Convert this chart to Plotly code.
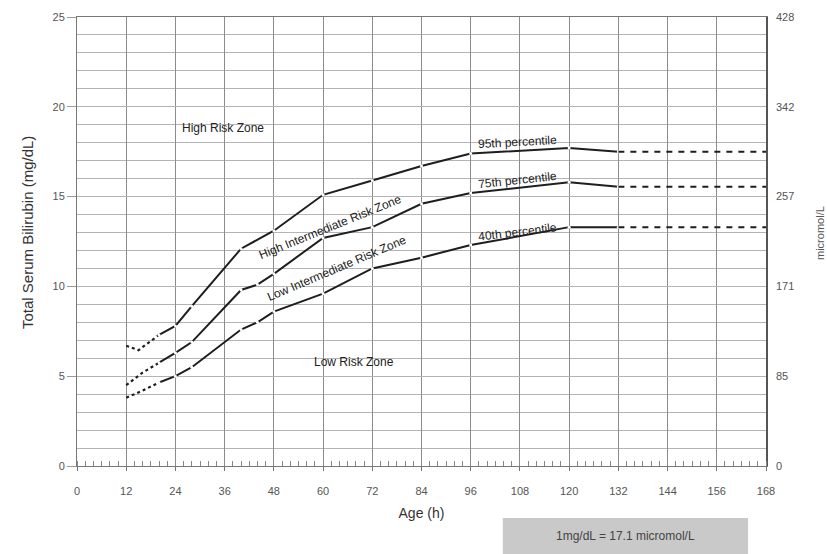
import plotly.graph_objects as go

# ---- data (hours, mg/dL) ----
p95_dot_x = [12, 15, 20]
p95_dot_y = [6.7, 6.45, 7.3]
p95_x = [20, 24, 28, 40, 48, 60, 72, 84, 96, 120, 132]
p95_y = [7.3, 7.8, 8.9, 12.1, 13.1, 15.1, 15.9, 16.7, 17.4, 17.7, 17.5]
p95_ext_x = [132, 168]
p95_ext_y = [17.5, 17.5]

p75_dot_x = [12, 16, 20]
p75_dot_y = [4.5, 5.2, 5.75]
p75_x = [20, 24, 28, 40, 44, 48, 60, 72, 84, 96, 120, 132]
p75_y = [5.75, 6.3, 6.9, 9.8, 10.1, 10.7, 12.7, 13.3, 14.6, 15.2, 15.8, 15.55]
p75_ext_x = [132, 168]
p75_ext_y = [15.55, 15.55]

p40_dot_x = [12, 16, 20]
p40_dot_y = [3.8, 4.2, 4.65]
p40_x = [20, 24, 28, 40, 44, 48, 60, 72, 84, 96, 120, 132]
p40_y = [4.65, 5.0, 5.5, 7.6, 8.0, 8.6, 9.6, 11.0, 11.6, 12.3, 13.3, 13.3]
p40_ext_x = [132, 168]
p40_ext_y = [13.3, 13.3]

x_ticks = list(range(0, 169, 12))
y_ticks = [0, 5, 10, 15, 20, 25]
micromol_labels = ["0", "85", "171", "257", "342", "428"]

LINE = "#1e1e1e"
fig = go.Figure()

def add_curve(dx, dy, sx, sy, ex, ey):
    fig.add_trace(go.Scatter(x=dx, y=dy, mode="lines",
                             line=dict(color=LINE, width=2.2, dash="dot"),
                             hoverinfo="skip", showlegend=False))
    fig.add_trace(go.Scatter(x=sx, y=sy, mode="lines+markers",
                             line=dict(color=LINE, width=2),
                             marker=dict(color="white", size=3, line=dict(width=0)),
                             hoverinfo="skip", showlegend=False))
    fig.add_trace(go.Scatter(x=ex, y=ey, mode="lines",
                             line=dict(color=LINE, width=2, dash="6px,6px"),
                             hoverinfo="skip", showlegend=False))

add_curve(p95_dot_x, p95_dot_y, p95_x, p95_y, p95_ext_x, p95_ext_y)
add_curve(p75_dot_x, p75_dot_y, p75_x, p75_y, p75_ext_x, p75_ext_y)
add_curve(p40_dot_x, p40_dot_y, p40_x, p40_y, p40_ext_x, p40_ext_y)

# invisible trace for the right axis
fig.add_trace(go.Scatter(x=[0], y=[0], yaxis="y2", mode="markers",
                         marker=dict(opacity=0), hoverinfo="skip", showlegend=False))

FONT = "Liberation Sans, Arial, sans-serif"
ann = [
    dict(x=35.5, y=18.8, text="High Risk Zone", angle=0),
    dict(x=67.5, y=5.8, text="Low Risk Zone", angle=0),
    dict(x=61.7, y=13.3, text="High Intermediate Risk Zone", angle=-22),
    dict(x=63.5, y=11.0, text="Low Intermediate Risk Zone", angle=-23),
    dict(x=107.5, y=18.05, text="95th percentile", angle=-3),
    dict(x=107.5, y=15.95, text="75th percentile", angle=-6),
    dict(x=107.5, y=13.05, text="40th percentile", angle=-7),
]
for a in ann:
    fig.add_annotation(x=a["x"], y=a["y"], text=a["text"], textangle=a["angle"],
                       showarrow=False, font=dict(family=FONT, size=12, color="#222"))

# axis titles placed as annotations
fig.add_annotation(xref="paper", yref="paper", x=-0.0726, y=0.521,
                   text="Total Serum Bilirubin (mg/dL)", textangle=-90, showarrow=False,
                   xanchor="center", yanchor="middle",
                   font=dict(family=FONT, size=15, color="#333"))
fig.add_annotation(xref="paper", yref="paper", x=1.0784, y=0.519,
                   text="micromol/L", textangle=-90, showarrow=False,
                   xanchor="center", yanchor="middle",
                   font=dict(family=FONT, size=11, color="#555"))

# conversion box
fig.add_shape(type="rect", xref="paper", yref="paper",
              x0=0.618, x1=0.974, y0=-0.196, y1=-0.116,
              fillcolor="#c9c9c9", line=dict(width=0), layer="above")
fig.add_annotation(xref="paper", yref="paper", x=0.796, y=-0.157,
                   xanchor="center", yanchor="middle",
                   text="1mg/dL = 17.1 micromol/L", showarrow=False,
                   font=dict(family=FONT, size=12, color="#444"))

fig.update_layout(
    width=827, height=554,
    margin=dict(l=77, r=61, t=17, b=88, autoexpand=False),
    paper_bgcolor="white", plot_bgcolor="white",
    font=dict(family=FONT, color="#444"),
    xaxis=dict(range=[0, 168], tickvals=x_ticks, showgrid=True,
               gridcolor="#8c8c8c", gridwidth=1, zeroline=False,
               showline=True, linecolor="#777", linewidth=1, mirror=True,
               ticks="outside", ticklen=4, tickcolor="#777",
               ticklabelstandoff=11,
               minor=dict(dtick=2, ticks="inside", ticklen=5, tickcolor="#888", showgrid=False),
               tickfont=dict(size=11, color="#555"),
               title=dict(text="Age (h)", font=dict(size=14, color="#333"), standoff=11)),
    yaxis=dict(range=[0, 25], tickvals=y_ticks, showgrid=True,
               gridcolor="#b4b4b4", gridwidth=1, zeroline=False,
               showline=True, linecolor="#777", linewidth=1,
               ticks="outside", ticklen=9, tickcolor="#999",
               minor=dict(dtick=1, showgrid=True, gridcolor="#b4b4b4", gridwidth=1),
               tickfont=dict(size=11, color="#555")),
    yaxis2=dict(range=[0, 25], overlaying="y", side="right",
                tickvals=y_ticks, ticktext=micromol_labels, showgrid=False,
                zeroline=False, showline=True, linecolor="#555", linewidth=1.5,
                ticks="", ticklabelstandoff=6, tickfont=dict(size=11, color="#555")),
)

fig.write_html("out.html", config={"displayModeBar": False},
               post_script="document.body.style.margin='0';document.body.style.overflow='hidden';")
